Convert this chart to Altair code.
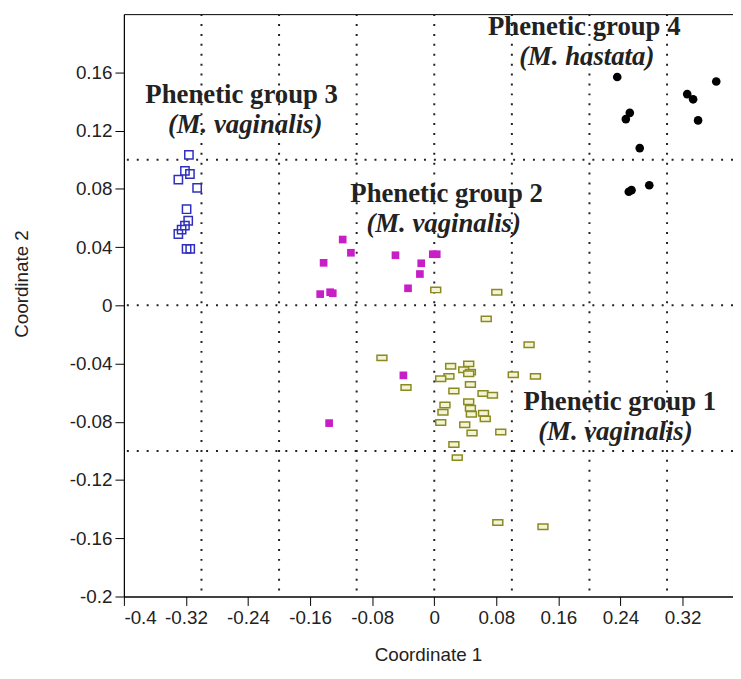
import altair as alt
import pandas as pd

# Phenetic group 1 (olive open rectangles)
g1_x = [0.0019, 0.0806, 0.0670, 0.1222, -0.0674, 0.0211, 0.0444, 0.0380, 0.0466, 0.0444,
        0.0189, 0.0083, 0.1018, 0.1304, -0.0364, 0.0466, 0.0253, 0.0628, 0.0750, 0.0138,
        0.0444, 0.0112, 0.0466, 0.0478, 0.0635, 0.0657, 0.0083, 0.0393, 0.0487, 0.0857,
        0.0253, 0.0296, 0.0819, 0.1401]
g1_y = [0.0106, 0.0090, -0.0093, -0.0271, -0.0361, -0.0418, -0.0402, -0.0443, -0.0459, -0.0470,
        -0.0488, -0.0504, -0.0477, -0.0488, -0.0565, -0.0544, -0.0588, -0.0605, -0.0617, -0.0685,
        -0.0662, -0.0734, -0.0707, -0.0748, -0.0741, -0.0780, -0.0805, -0.0820, -0.0877, -0.0870,
        -0.0956, -0.1046, -0.1492, -0.1521]

# Phenetic group 2 (magenta filled squares)
g2_x = [-0.1180, -0.1074, -0.1426, -0.0500, -0.0168, -0.0019, 0.0032, -0.0185, -0.0338,
        -0.1470, -0.1342, -0.1308, -0.0398, -0.1355]
g2_y = [0.0452, 0.0361, 0.0292, 0.0344, 0.0289, 0.0351, 0.0351, 0.0215, 0.0117,
        0.0077, 0.0090, 0.0083, -0.0481, -0.0809]

# Phenetic group 3 (blue open squares)
g3_x = [-0.3162, -0.3213, -0.3149, -0.3298, -0.3056, -0.3192, -0.3171, -0.3213, -0.3256,
        -0.3298, -0.3192, -0.3145]
g3_y = [0.1033, 0.0924, 0.0902, 0.0863, 0.0807, 0.0660, 0.0581, 0.0547, 0.0520,
        0.0490, 0.0388, 0.0388]

# Phenetic group 4 (black dots)
g4_x = [0.2358, 0.3634, 0.3260, 0.3336, 0.2520, 0.2469, 0.3400, 0.2648, 0.2771, 0.2542, 0.2507]
g4_y = [0.1568, 0.1537, 0.1451, 0.1415, 0.1322, 0.1279, 0.1270, 0.1080, 0.0825, 0.0791, 0.0780]

# Annotation texts
lab_text = ["Phenetic group 4", "Phenetic group 3", "Phenetic group 2", "Phenetic group 1"]
lab_x = [0.1933, -0.2482, 0.0159, 0.2392]
lab_y = [0.1857, 0.1388, 0.0707, -0.0721]
sp_text = ["(M. hastata)", "(M. vaginalis)", "(M. vaginalis)", "(M. vaginalis)"]
sp_x = [0.1965, -0.2437, 0.0121, 0.2335]
sp_y = [0.1653, 0.1184, 0.0503, -0.0925]

x_ticks = [-0.4, -0.32, -0.24, -0.16, -0.08, 0, 0.08, 0.16, 0.24, 0.32]
y_ticks = [-0.2, -0.16, -0.12, -0.08, -0.04, 0, 0.04, 0.08, 0.12, 0.16]
grid_x = [-0.3, -0.2, -0.1, 0, 0.1, 0.2, 0.3]
grid_y = [-0.1, 0, 0.1]

lbl_expr = "replace(format(datum.value, '.2~f'), '\u2212', '-')"

X = alt.X("x:Q", scale=alt.Scale(domain=[-0.4, 0.385], nice=False, zero=False),
          axis=alt.Axis(values=x_ticks, labelExpr=lbl_expr, title="Coordinate 1",
                        titleX=307, titleY=59, titleBaseline="middle", titleAnchor="start",
                        titleAlign="center"))
Y = alt.Y("y:Q", scale=alt.Scale(domain=[-0.2, 0.2], nice=False, zero=False),
          axis=alt.Axis(values=y_ticks, labelExpr=lbl_expr, title="Coordinate 2",
                        titleX=-103, titleY=272, titleBaseline="middle", titleAlign="center"))

vgrid = alt.Chart(pd.DataFrame({"x": grid_x})).mark_rule(
    color="#222222", strokeWidth=2, strokeDash=[2, 8]).encode(x=X)
hgrid = alt.Chart(pd.DataFrame({"y": grid_y})).mark_rule(
    color="#222222", strokeWidth=2, strokeDash=[2, 8]).encode(y=Y)

p1 = alt.Chart(pd.DataFrame({"x": g1_x, "y": g1_y})).mark_point(
    shape="M-1,-0.55H1V0.55H-1Z", size=100, filled=False, fill="#f3f3d6", fillOpacity=1,
    stroke="#8a8a22", strokeWidth=1.5, opacity=1).encode(x=X, y=Y)
p2 = alt.Chart(pd.DataFrame({"x": g2_x, "y": g2_y})).mark_point(
    shape="square", size=60, filled=True, color="#c81ec8", opacity=1).encode(x=X, y=Y)
p3 = alt.Chart(pd.DataFrame({"x": g3_x, "y": g3_y})).mark_point(
    shape="square", size=70, filled=False, color="#2f2fbf", strokeWidth=1.5, opacity=1).encode(x=X, y=Y)
p4 = alt.Chart(pd.DataFrame({"x": g4_x, "y": g4_y})).mark_point(
    shape="circle", size=76, filled=True, color="#000000", opacity=1).encode(x=X, y=Y)

t1 = alt.Chart(pd.DataFrame({"x": lab_x, "y": lab_y, "t": lab_text})).mark_text(
    font="Liberation Serif", fontSize=27, fontWeight="bold", align="center",
    baseline="alphabetic", color="#222222").encode(x=X, y=Y, text="t:N")
t2 = alt.Chart(pd.DataFrame({"x": sp_x, "y": sp_y, "t": sp_text})).mark_text(
    font="Liberation Serif", fontSize=27, fontWeight="bold", fontStyle="italic", align="center",
    baseline="alphabetic", color="#222222").encode(x=X, y=Y, text="t:N")

chart = alt.layer(vgrid, hgrid, p1, p2, p3, p4, t1, t2).properties(
    width=615, height=588,
    autosize=alt.AutoSizeParams(type="none"),
    padding={"left": 117, "top": 3, "right": 0, "bottom": 72},
).configure_view(stroke="#000000", strokeWidth=1).configure_axis(
    domainColor="#000000", tickColor="#000000", tickSize=9, labelPadding=3,
    labelFont="Liberation Sans", labelFontSize=19, labelColor="#222222",
    titleFont="Liberation Sans", titleFontSize=19, titleFontWeight="normal", titleColor="#222222",
    grid=False,
)

chart.save("out.html", embed_options={"renderer": "svg", "actions": False})
